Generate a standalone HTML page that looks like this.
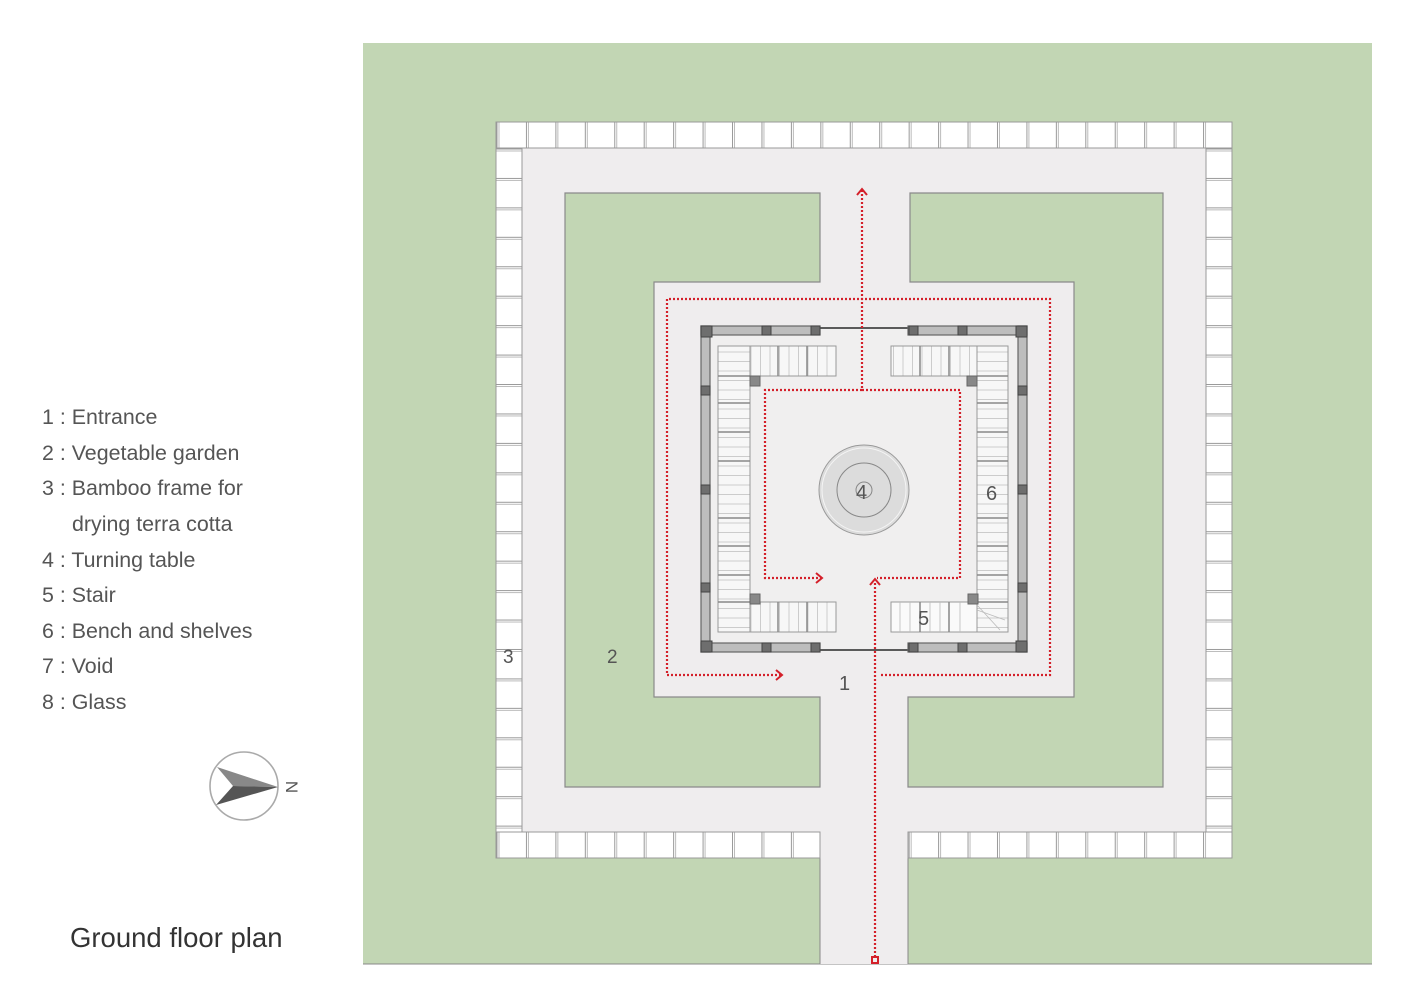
<!DOCTYPE html>
<html><head><meta charset="utf-8"><style>
html,body{margin:0;padding:0;background:#fff;}
svg{display:block;}
text{font-family:"Liberation Sans",sans-serif;fill:#555;}
</style></head><body>
<svg width="1414" height="1000" viewBox="0 0 1414 1000" xmlns="http://www.w3.org/2000/svg">
<defs>
<pattern id="th" x="496" y="122" width="29.44" height="26" patternUnits="userSpaceOnUse">
<rect x="0" y="0" width="29.44" height="26" fill="#fff"/>
<line x1="1" y1="0" x2="1" y2="26" stroke="#999" stroke-width="1"/>
<line x1="3" y1="0" x2="3" y2="26" stroke="#bbb" stroke-width="1"/>
</pattern>
<pattern id="tv" x="496" y="148" width="26" height="29.44" patternUnits="userSpaceOnUse">
<rect x="0" y="0" width="26" height="29.44" fill="#fff"/>
<line x1="0" y1="1" x2="26" y2="1" stroke="#999" stroke-width="1"/>
<line x1="0" y1="3" x2="26" y2="3" stroke="#bbb" stroke-width="1"/>
</pattern>
<pattern id="slv" x="0" y="0" width="10" height="9.5" patternUnits="userSpaceOnUse">
<rect width="10" height="9.5" fill="#f7f7f7"/>
<line x1="0" y1="0.5" x2="10" y2="0.5" stroke="#ccc" stroke-width="1"/>
</pattern>
<pattern id="slh" x="0" y="0" width="9.5" height="10" patternUnits="userSpaceOnUse">
<rect width="9.5" height="10" fill="#f7f7f7"/>
<line x1="0.5" y1="0" x2="0.5" y2="10" stroke="#ccc" stroke-width="1"/>
</pattern>
</defs>

<rect x="363" y="43" width="1009" height="921" fill="#c2d6b4"/>
<line x1="363" y1="964" x2="1372" y2="964" stroke="#888" stroke-width="1"/>

<rect x="496" y="122" width="736" height="736" fill="#efedee"/>
<rect x="820" y="830" width="88" height="134" fill="#efedee"/>
<line x1="820" y1="858" x2="820" y2="964" stroke="#888"/>
<line x1="908" y1="858" x2="908" y2="964" stroke="#888"/>

<rect x="496" y="122" width="736" height="26" fill="url(#th)" stroke="#999"/>
<rect x="496" y="148" width="26" height="684" fill="url(#tv)" stroke="#999"/>
<rect x="1206" y="148" width="26" height="684" fill="url(#tv)" stroke="#999"/>
<rect x="496" y="832" width="324" height="26" fill="url(#th)" stroke="#999"/>
<rect x="908" y="832" width="324" height="26" fill="url(#th)" stroke="#999"/>

<polygon points="565,193 820,193 820,282 654,282 654,697 820,697 820,787 565,787" fill="#c2d6b4" stroke="#8a8a8a" stroke-width="1.2"/>
<polygon points="910,193 1163,193 1163,787 908,787 908,697 1074,697 1074,282 910,282" fill="#c2d6b4" stroke="#8a8a8a" stroke-width="1.2"/>

<rect x="701" y="326" width="326" height="326" fill="#f0efef"/>
<line x1="820" y1="328" x2="910" y2="328" stroke="#444" stroke-width="1.8"/>
<line x1="820" y1="650" x2="908" y2="650" stroke="#444" stroke-width="1.8"/>
<g fill="#bdbdbd" stroke="#666" stroke-width="1.2">
<rect x="701" y="326" width="119" height="9"/>
<rect x="908" y="326" width="119" height="9"/>
<rect x="701" y="643" width="119" height="9"/>
<rect x="908" y="643" width="119" height="9"/>
<rect x="701" y="326" width="9" height="326"/>
<rect x="1018" y="326" width="9" height="326"/>
</g>
<g fill="#6e6e6e" stroke="#444">
<rect x="701" y="326" width="11" height="11"/><rect x="1016" y="326" width="11" height="11"/>
<rect x="701" y="641" width="11" height="11"/><rect x="1016" y="641" width="11" height="11"/>
<rect x="762" y="326" width="9" height="9"/><rect x="811" y="326" width="9" height="9"/>
<rect x="909" y="326" width="9" height="9"/><rect x="958" y="326" width="9" height="9"/>
<rect x="762" y="643" width="9" height="9"/><rect x="811" y="643" width="9" height="9"/>
<rect x="909" y="643" width="9" height="9"/><rect x="958" y="643" width="9" height="9"/>
<rect x="701" y="386" width="9" height="9"/><rect x="701" y="485" width="9" height="9"/><rect x="701" y="583" width="9" height="9"/>
<rect x="1018" y="386" width="9" height="9"/><rect x="1018" y="485" width="9" height="9"/><rect x="1018" y="583" width="9" height="9"/>
</g>

<g stroke="#999" stroke-width="1">
<rect x="718" y="346" width="32" height="286" fill="url(#slv)"/>
<rect x="977" y="346" width="31" height="286" fill="url(#slv)"/>
<rect x="750" y="346" width="86" height="30" fill="url(#slh)"/>
<rect x="891" y="346" width="86" height="30" fill="url(#slh)"/>
<rect x="750" y="602" width="86" height="30" fill="url(#slh)"/>
<rect x="891" y="602" width="86" height="30" fill="#fafafa"/>
</g>
<g stroke="#888" stroke-width="1.5">
<line x1="718" y1="376" x2="750" y2="376"/><line x1="718" y1="403" x2="750" y2="403"/><line x1="718" y1="432" x2="750" y2="432"/><line x1="718" y1="461" x2="750" y2="461"/><line x1="718" y1="518" x2="750" y2="518"/><line x1="718" y1="546" x2="750" y2="546"/><line x1="718" y1="575" x2="750" y2="575"/><line x1="718" y1="602" x2="750" y2="602"/>
<line x1="977" y1="376" x2="1008" y2="376"/><line x1="977" y1="403" x2="1008" y2="403"/><line x1="977" y1="432" x2="1008" y2="432"/><line x1="977" y1="461" x2="1008" y2="461"/><line x1="977" y1="518" x2="1008" y2="518"/><line x1="977" y1="546" x2="1008" y2="546"/><line x1="977" y1="575" x2="1008" y2="575"/><line x1="977" y1="602" x2="1008" y2="602"/>
<line x1="778" y1="346" x2="778" y2="376"/><line x1="807" y1="346" x2="807" y2="376"/>
<line x1="920" y1="346" x2="920" y2="376"/><line x1="949" y1="346" x2="949" y2="376"/>
<line x1="778" y1="602" x2="778" y2="632"/><line x1="807" y1="602" x2="807" y2="632"/>
<line x1="920" y1="602" x2="920" y2="632"/><line x1="949" y1="602" x2="949" y2="632"/>
</g>
<g stroke="#bbb" stroke-width="0.8">
<line x1="900" y1="602" x2="900" y2="632"/><line x1="910" y1="602" x2="910" y2="632"/><line x1="930" y1="602" x2="930" y2="632"/><line x1="940" y1="602" x2="940" y2="632"/><line x1="960" y1="602" x2="960" y2="632"/>
<line x1="977" y1="605" x2="1000" y2="630"/><line x1="977" y1="610" x2="1005" y2="620"/>
</g>
<g fill="#888" stroke="#666">
<rect x="750" y="376" width="10" height="10"/><rect x="967" y="376" width="10" height="10"/>
<rect x="750" y="594" width="10" height="10"/><rect x="968" y="594" width="10" height="10"/>
</g>

<circle cx="864" cy="490" r="45" fill="#dcdcdc" stroke="#999" stroke-width="1"/>
<circle cx="864" cy="490" r="42" fill="none" stroke="#f4f4f4" stroke-width="1"/>
<circle cx="864" cy="490" r="27" fill="none" stroke="#888" stroke-width="1"/>
<circle cx="864" cy="490" r="8" fill="none" stroke="#888" stroke-width="1"/>

<g fill="none" stroke="#d4202a" stroke-width="2.2" stroke-dasharray="2 2">
<polyline points="781,675 667,675 667,299 1050,299 1050,675 880,675"/>
<polyline points="862,190 862,390 765,390 765,578 821,578"/>
<polyline points="862,390 960,390 960,578 877,578"/>
<line x1="875" y1="957" x2="875" y2="582"/>
</g>
<g fill="none" stroke="#d4202a" stroke-width="2">
<polyline points="776,670 782,675 776,680"/>
<polyline points="857,195 862,189 867,195"/>
<polyline points="816,573 822,578 816,583"/>
<polyline points="870,585 875,579 880,585"/>
<rect x="872" y="957" width="6" height="6"/>
</g>

<text x="856" y="499" font-size="20">4</text>
<text x="986" y="500" font-size="20">6</text>
<text x="918" y="625" font-size="20">5</text>
<text x="839" y="690" font-size="20">1</text>
<text x="607" y="663" font-size="19">2</text>
<text x="503" y="663" font-size="19">3</text>

<g font-size="21.4">
<text x="42" y="424">1 : Entrance</text>
<text x="42" y="460">2 : Vegetable garden</text>
<text x="42" y="495">3 : Bamboo frame for</text>
<text x="72" y="531">drying terra cotta</text>
<text x="42" y="567">4 : Turning table</text>
<text x="42" y="602">5 : Stair</text>
<text x="42" y="638">6 : Bench and shelves</text>
<text x="42" y="673">7 : Void</text>
<text x="42" y="709">8 : Glass</text>
</g>

<circle cx="244" cy="786" r="34" fill="#fff" stroke="#aaa" stroke-width="1.6"/>
<polygon points="217,767 278,787 233,786" fill="#888"/>
<polygon points="233,786 278,787 216,805" fill="#555"/>
<text x="0" y="0" font-size="17" transform="translate(285,787) rotate(90)" text-anchor="middle" dy="-1">N</text>

<text x="70" y="947" font-size="27.5" style="fill:#333">Ground floor plan</text>
</svg>
</body></html>
